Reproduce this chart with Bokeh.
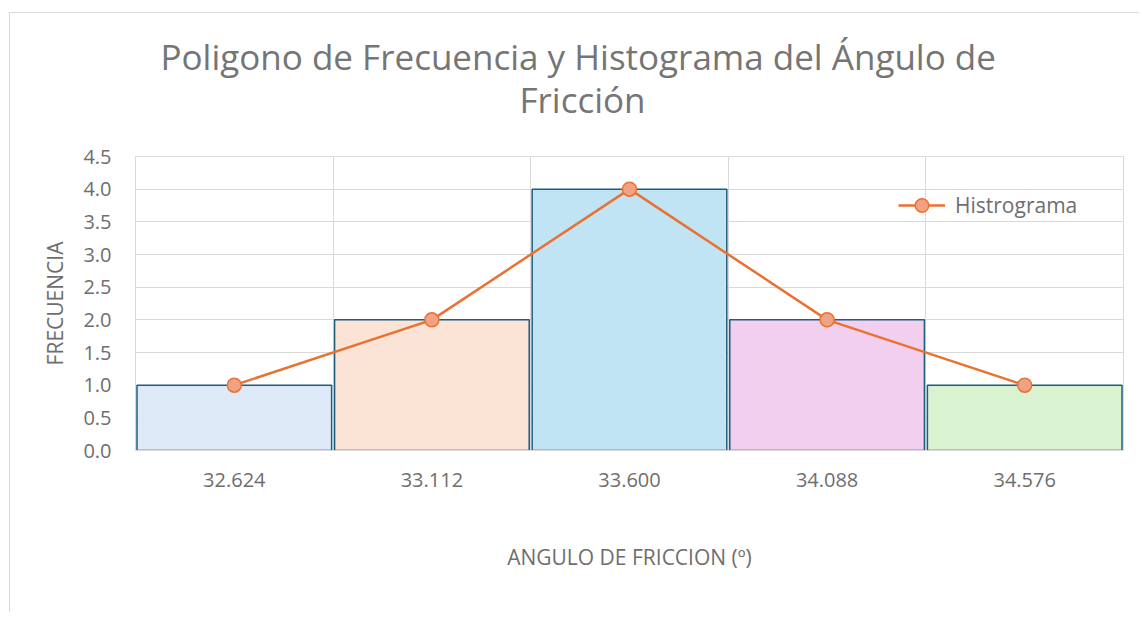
from bokeh.plotting import figure
from bokeh.models import ColumnDataSource, FixedTicker, Title, Legend, LegendItem
from bokeh.embed import file_html
from bokeh.resources import INLINE

# data
clases = ["32.624", "33.112", "33.600", "34.088", "34.576"]
frecuencias = [1, 2, 4, 2, 1]
colores = ["#dde9f6", "#fbe3d6", "#c1e4f5", "#f2cfee", "#d9f2d0"]
titulo = ["Poligono de Frecuencia y Histograma del Ángulo de", "Fricción"]

FONT = "Open Sans"
GRAY = "#6e6e6e"
TGRAY = "#757575"
GRID = "#d9d9d9"

pos = [i + 0.5 for i in range(len(clases))]
src = ColumnDataSource(dict(x=pos, top=frecuencias, color=colores, label=clases))

p = figure(width=1130, height=600, x_range=(0, len(clases)), y_range=(0, 4.5),
           output_backend="svg", toolbar_location=None,
           min_border_left=125, min_border_right=17, min_border_top=143,
           min_border_bottom=163)
p.styles = {"border-top": "1px solid #d9d9d9", "border-left": "1px solid #d9d9d9",
            "margin-top": "12px", "margin-left": "9px"}

p.outline_line_color = GRID
p.background_fill_color = "white"

p.vbar(x="x", top="top", bottom=0, width=0.985, fill_color="color",
       line_color="#1d5d7e", line_width=1.5, source=src)

ln = p.line(x="x", y="top", line_color="#e97132", line_width=2.5, source=src)
sc = p.scatter(x="x", y="top", size=14, fill_color="#f1a283", line_color="#e97132",
               line_width=1.5, source=src)

legend = Legend(items=[LegendItem(label="Histrograma", renderers=[ln, sc])],
                location=(763, 228), border_line_color=None, background_fill_alpha=0,
                label_text_font=FONT, label_text_font_size="21px", label_text_color=GRAY,
                glyph_width=47, glyph_height=34, padding=0, margin=0, label_standoff=10)
p.add_layout(legend, "center")

# axes
p.xaxis.ticker = FixedTicker(ticks=pos)
p.xaxis.major_label_overrides = {pos[i]: clases[i] for i in range(len(clases))}
p.xgrid.ticker = FixedTicker(ticks=[1, 2, 3, 4])
p.yaxis.ticker = FixedTicker(ticks=[i * 0.5 for i in range(10)])
p.yaxis.major_label_overrides = {i * 0.5: f"{i*0.5:.1f}" for i in range(10)}
for ax in (p.xaxis, p.yaxis):
    ax.major_tick_line_color = None
    ax.minor_tick_line_color = None
    ax.major_tick_out = 0
    ax.major_tick_in = 0
    ax.major_label_text_font = FONT
    ax.major_label_text_font_size = "20px"
    ax.major_label_text_color = GRAY
    ax.axis_label_text_font = FONT
    ax.axis_label_text_font_size = "21px"
    ax.axis_label_text_color = GRAY
    ax.axis_label_text_font_style = "normal"
p.xaxis.axis_line_color = GRID
p.yaxis.axis_line_color = None
p.xgrid.grid_line_color = GRID
p.ygrid.grid_line_color = GRID
p.xaxis.axis_label = "ANGULO DE FRICCION (º)"
p.yaxis.axis_label = "FRECUENCIA"
p.xaxis.major_label_standoff = 22
p.xaxis.axis_label_standoff = 53
p.yaxis.major_label_standoff = 24
p.yaxis.axis_label_standoff = 11

p.title = None
p.add_layout(Title(text=titulo[1], align="left", offset=384, standoff=68, text_font=FONT,
                   text_font_size="35px", text_color=TGRAY, text_font_style="normal"), "above")
p.add_layout(Title(text=titulo[0], align="left", offset=25, standoff=-80, text_font=FONT,
                   text_font_size="35px", text_color=TGRAY, text_font_style="normal"), "above")

open("out.html", "w").write(file_html(p, INLINE))
